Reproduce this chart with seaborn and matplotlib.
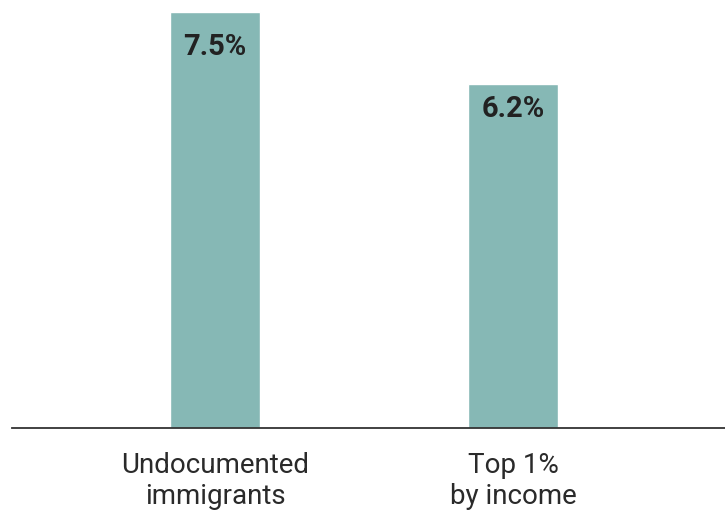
import matplotlib
matplotlib.use("Agg")
import matplotlib.pyplot as plt
import seaborn as sns
import pandas as pd

categories = ["Undocumented\nimmigrants", "Top 1%\nby income"]
values = [7.5, 6.2]
value_labels = ["7.5%", "6.2%"]

sns.set_theme(style="white")
plt.rcParams['font.family'] = ['Roboto', 'DejaVu Sans']

df = pd.DataFrame({"group": categories, "share": values})

fig = plt.figure(figsize=(7.25, 5.12), dpi=100)
ax = fig.add_axes([12 / 725, (512 - 428) / 512, 713 / 725, 416 / 512])

sns.barplot(data=df, x="group", y="share", color="#86b8b5", saturation=1,
            width=0.302, ax=ax)

ax.set_xlim((12 - 215) / 298, (725 - 215) / 298)
ax.set_ylim(0, 7.5)

for sp in ["top", "right", "left"]:
    ax.spines[sp].set_visible(False)
ax.spines["bottom"].set_color("#333333")
ax.spines["bottom"].set_linewidth(1.3)
ax.set_yticks([])
ax.set_xlabel("")
ax.set_ylabel("")
ax.tick_params(axis="x", length=0, pad=17, labelsize=20, labelcolor="#2a2a2a")
for t in ax.get_xticklabels():
    t.set_linespacing(1.2)

offsets = [-15, -8]
for i, (v, lab) in enumerate(zip(values, value_labels)):
    ax.annotate(lab, xy=(i, v), xytext=(0, offsets[i]), textcoords="offset points",
                ha="center", va="top", fontsize=21, fontweight="bold", color="#222222")

fig.savefig("out.png", dpi=100)
